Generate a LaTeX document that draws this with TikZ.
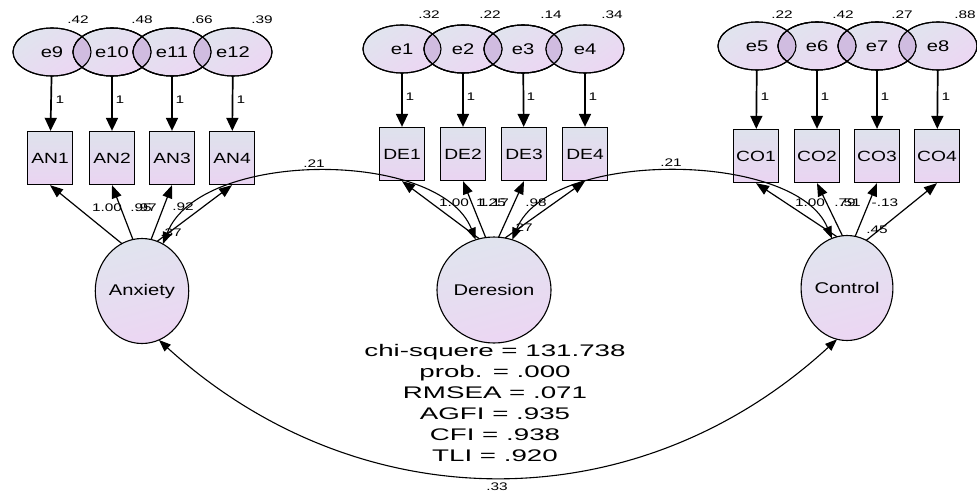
\documentclass[tikz,border=0pt]{standalone}
\usepackage{fontspec}
\setmainfont{Liberation Sans}[FakeStretch=1.65]
\newfontfamily\nodefont{Liberation Sans}[FakeStretch=1.3]
\newfontfamily\lblfont{Liberation Sans}[FakeStretch=1.4]
\usetikzlibrary{shapes.geometric,arrows.meta}
\definecolor{shTop}{RGB}{224,228,238}
\definecolor{shBot}{RGB}{236,214,243}
\definecolor{boxTop}{RGB}{222,226,236}
\definecolor{boxBot}{RGB}{234,212,242}
\definecolor{lensc}{RGB}{208,188,224}
\begin{document}
\begin{tikzpicture}[x=1pt,y=-1pt,
  every node/.style={inner sep=0pt},
  errnode/.style={ellipse, draw, line width=1.1pt, outer sep=0pt, minimum width=78pt, minimum height=48pt,
    top color=shTop, bottom color=shBot, shading angle=35, font=\nodefont\fontsize{15.5}{17}\selectfont},
  latnode/.style={ellipse, draw, line width=1.1pt, outer sep=0pt, minimum width=91pt, minimum height=105pt,
    top color=shTop, bottom color=shBot, shading angle=15, font=\nodefont\fontsize{15.5}{17}\selectfont},
  obsnode/.style={rectangle, draw, line width=1.3pt, minimum width=45pt, minimum height=53pt,
    top color=boxTop, bottom color=boxBot, font=\nodefont\fontsize{14.8}{16}\selectfont},
  errarr/.style={line width=1.7pt, -{Triangle[length=13pt,width=12pt]}},
  loadarr/.style={line width=1.2pt, -{Triangle[length=13pt,width=10pt]}},
  covarr/.style={line width=1.1pt, {Triangle[length=12pt,width=9pt]}-{Triangle[length=12pt,width=9pt]}},
  lbl/.style={font=\lblfont\fontsize{11}{12}\selectfont},
  stats/.style={align=center, font=\fontsize{16.8}{21}\selectfont},
  outl/.style={line width=1.1pt}]
\useasboundingbox (0,0) rectangle (977,493);

% ---------- error terms ----------
\node[errnode] (e9)  at (52,52)  {e9};
\node[errnode] (e10) at (112,52) {e10};
\node[errnode] (e11) at (172,52) {e11};
\node[errnode] (e12) at (233,52) {e12};
\node[errnode] (e1) at (402,49) {e1};
\node[errnode] (e2) at (463,49) {e2};
\node[errnode] (e3) at (523,49) {e3};
\node[errnode] (e4) at (585,49) {e4};
\node[errnode] (e5) at (757,46) {e5};
\node[errnode] (e6) at (817,46) {e6};
\node[errnode] (e7) at (877,46) {e7};
\node[errnode] (e8) at (938,46) {e8};

% overlapping lenses
\foreach \a/\b/\y in {52/112/52,112/172/52,172/233/52,
                      402/463/49,463/523/49,523/585/49,
                      757/817/46,817/877/46,877/938/46}{
  \begin{scope}
    \clip (\a,\y) ellipse [x radius=39, y radius=24];
    \fill[lensc] (\b,\y) ellipse [x radius=39, y radius=24];
  \end{scope}
  \draw[outl] (\a,\y) ellipse [x radius=39, y radius=24];
  \draw[outl] (\b,\y) ellipse [x radius=39, y radius=24];
}

% ---------- observed variables ----------
\node[obsnode] (AN1) at (50,158) {AN1};
\node[obsnode] (AN2) at (112,158) {AN2};
\node[obsnode] (AN3) at (172,158) {AN3};
\node[obsnode] (AN4) at (232,158) {AN4};
\node[obsnode] (DE1) at (402,154) {DE1};
\node[obsnode] (DE2) at (463,154) {DE2};
\node[obsnode] (DE3) at (524,154) {DE3};
\node[obsnode] (DE4) at (585,154) {DE4};
\node[obsnode] (CO1) at (756,156) {CO1};
\node[obsnode] (CO2) at (817,156) {CO2};
\node[obsnode] (CO3) at (877,156) {CO3};
\node[obsnode] (CO4) at (937,156) {CO4};

% ---------- latent variables ----------
\node[latnode] (Anx) at (142,291) {Anxiety};
\node[latnode, minimum width=92pt, minimum height=106pt] (Der) at (494,290) {Deresion};
\node[latnode] (Con) at (847,288) {Control};

% ---------- error arrows ----------
\foreach \e/\o in {e9/AN1,e10/AN2,e11/AN3,e12/AN4,e1/DE1,e2/DE2,e3/DE3,e4/DE4,e5/CO1,e6/CO2,e7/CO3,e8/CO4}
  \draw[errarr] (\e) -- (\o);

% ---------- loadings ----------
\draw[loadarr] (Anx.113) -- (AN1.south);
\draw[loadarr] (Anx.100) -- (AN2.south);
\draw[loadarr] (Anx.80)  -- (AN3.south);
\draw[loadarr] (Anx.73)  -- (AN4.south);
\draw[loadarr] (Der.106) -- (DE1.south);
\draw[loadarr] (Der.99)  -- (DE2.south);
\draw[loadarr] (Der.85)  -- (DE3.south);
\draw[loadarr] (Der.78)  -- (DE4.south);
\draw[loadarr] (Con.101) -- (CO1.south);
\draw[loadarr] (Con.95)  -- (CO2.south);
\draw[loadarr] (Con.81)  -- (CO3.south);
\draw[loadarr] (Con.68)  -- (CO4.south);

% ---------- covariances ----------
\draw[covarr] (Anx.66) .. controls +(37,-95) and +(-36,-91) .. (Der.110);
\draw[covarr] (Der.70) .. controls +(37,-91) and +(-36,-88) .. (Con.107);
\draw[covarr] (Anx.-71) .. controls +(200,182) and +(-200,184) .. (Con.-101);

% ---------- labels: error variances ----------
\node[lbl] (v9)  at (78,20)  {.42};
\node[lbl] (v10) at (142,20) {.48};
\node[lbl] (v11) at (202,20) {.66};
\node[lbl] (v12) at (262,20) {.39};
\node[lbl] (v1) at (429,15) {.32};
\node[lbl] (v2) at (490,15) {.22};
\node[lbl] (v3) at (551,15) {.14};
\node[lbl] (v4) at (612,15) {.34};
\node[lbl] (v5) at (782,15) {.22};
\node[lbl] (v6) at (843,15) {.42};
\node[lbl] (v7) at (902,15) {.27};
\node[lbl] (v8) at (965,15) {.88};

% ---------- labels: fixed paths ----------
\foreach \x/\y [count=\i] in {60/100,120/100,180/100,241/100,410/97,471/97,531/97,593/97,765/97,825/97,885/97,946/97}
  \node[lbl] (one\i) at (\x,\y) {1};

% ---------- labels: loadings ----------
\node[lbl] (la1) at (107,208) {1.00};
\node[lbl] (la2) at (141,208) {.95};
\node[lbl] (la3) at (146,208) {.97};
\node[lbl] (la4) at (183,207) {.92};
\node[lbl] (la5) at (171,233) {.37};
\node[lbl] (ld1) at (454,203) {1.00};
\node[lbl] (ld2) at (491,203) {1.25};
\node[lbl] (ld3) at (494,203) {1.17};
\node[lbl] (ld4) at (536,203) {.98};
\node[lbl] (ld5) at (522,228) {.27};
\node[lbl] (lc1) at (810,203) {1.00};
\node[lbl] (lc2) at (845,203) {.79};
\node[lbl] (lc3) at (850,203) {.51};
\node[lbl] (lc4) at (885,203) {-.13};
\node[lbl] (lc5) at (877,230) {.45};

% ---------- labels: covariances ----------
\node[lbl] (c1) at (314,164) {.21};
\node[lbl] (c2) at (671,163) {.21};
\node[lbl] (c3) at (497,487) {.33};

% ---------- fit statistics ----------
\node[stats] (fit) at (495,403) {chi-squere = 131.738\\prob. = .000\\RMSEA = .071\\AGFI = .935\\CFI = .938\\TLI = .920};
\end{tikzpicture}
\end{document}
